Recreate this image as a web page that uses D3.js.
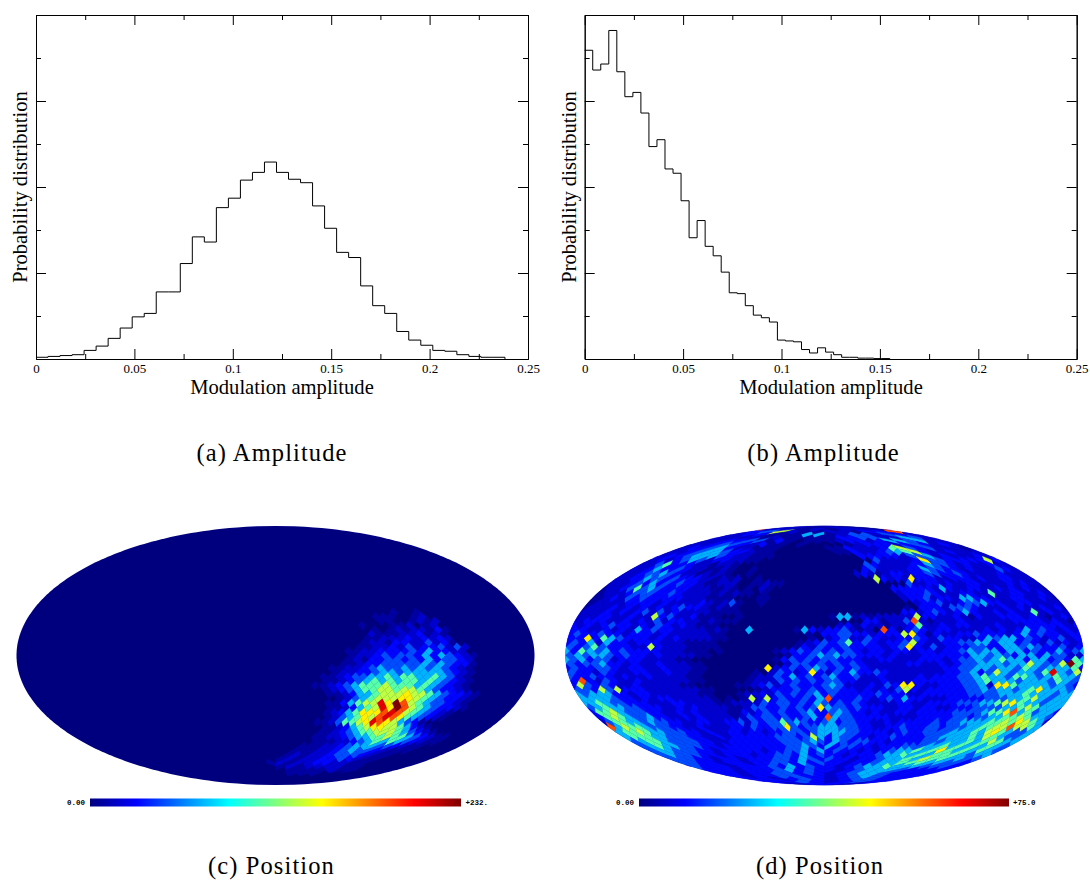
<!DOCTYPE html>
<html>
<head>
<meta charset="utf-8">
<script src="https://cdn.jsdelivr.net/npm/d3@7"></script>
<style>
  body { margin: 0; background: #fff; }
  text { font-family: "Liberation Serif", serif; fill: #000; }
</style>
</head>
<body>
<script>
// histogram heights, one per bin (major y tick = 1)
var histA = [0.02,0.03,0.04,0.05,0.10,0.15,0.24,0.36,0.49,0.53,0.78,0.78,1.11,1.42,1.36,1.76,1.87,2.08,2.17,2.29,
  2.17,2.09,2.05,1.78,1.52,1.24,1.18,0.85,0.62,0.53,0.32,0.22,0.16,0.10,0.09,0.05,0.03,0.02,0.02];
var histB = [3.59,3.36,3.43,3.82,3.34,3.05,3.10,2.86,2.47,2.55,2.21,2.16,1.84,1.41,1.61,1.31,1.20,1.01,0.77,0.76,
  0.62,0.51,0.48,0.43,0.22,0.21,0.20,0.11,0.07,0.13,0.08,0.05,0.02,0.02,0.01,0.01,0.005,0.005];
var binWidthA = 0.00611;
var binWidthB = 0.00408;
var xMajor = [0, 0.05, 0.1, 0.15, 0.2, 0.25];
var xMinor = [0.025, 0.075, 0.125, 0.175, 0.225];
var yMajor = [1, 2, 3];
var yMinor = [0.5, 1.5, 2.5, 3.5];

// colour levels used by the map strings, as fraction of the colour bar maximum
var levels = { "0":0, "1":0.035, "2":0.08, "3":0.13, "4":0.2, "5":0.3, "6":0.46, "7":0.56, "8":0.64, "9":0.8, "a":0.9, "b":1 };
var maxC = 232;
var maxD = 75;

// panel (c): nearly empty, so only the filled runs [ring, first pixel, levels]
var runsC = [
  [22,47,"1001"],[23,45,"1110012"],[24,45,"11001212"],[25,43,"1000112012"],[26,44,"1012122131"],
  [27,44,"2111223121"],[28,43,"11222323232"],[29,43,"122133224231"],[30,42,"11223242334242"],
  [31,41,"112233334353322"],[32,41,"1223434435354321"],[33,41,"1213344343534432"],[34,40,"11233444445454331"],
  [35,39,"112234544545454321"],[36,39,"122334554555554321"],[37,38,"1123445565665565421"],[38,38,"1123456565665654321"],
  [39,37,"11234566676665654321"],[40,38,"1234566776776543321"],[41,39,"11235567778776543321"],
  [42,40,"124567778876543321"],[43,39,"1135677a8b976544321"],[44,39,"1123567a8b976543321"],
  [45,39,"123568889a97654321"],[46,39,"12456879a98654321"],[47,38,"11246678a9875431"],
  [48,39,"1123567887765321"],[49,36,"11234566777654321"],[50,33,"1122345566766543211"],
  [51,31,"11122345656543211"],[52,27,"1112234555443211"],[53,24,"111223454432111"],[54,21,"1212234443211"],
  [55,18,"121223343211"],[56,15,"12122332211"],[57,14,"121222211"],[58,13,"1111211"],[59,11,"111"]
];

// panel (d): one string per ring, north to south, left to right
var ringsD = [
  "2121","22121221","347211221339","2331115512442432","22221211111334422542","223344131011123323554522",
  "2234432311010000123332343232","23345322111000001132223674342221","223455433211000000011322345673223222",
  "2334555432211100000000003333324452322232","23234542332211000000000000004222238443333373",
  "224633322122100000000000000004322223354432322322","2235334322112100100000000000000342222335443323222432",
  "22344543221212100100000000000000232123323344334322223222",
  "223354434333221212001000000000000000073232833322333232233222",
  "2223435343433211222001121100000000000000000042233232233222232322",
  "1223464543333222112101021000000000000000003333332532233223232322",
  "1222344433432222121211010000000000000000002333432223322622332232",
  "1123243433333222111100011000000000000000000233423325533222332232",
  "1222233332322223212410010000000000000000000023342234453322332222",
  "1222323232323433212110000000000000000000000103332444322232322323",
  "2223232342423222211110000000000000000000003323432353223232262322",
  "2223322322734223111001000000000001551212222273322321322333232123",
  "2333223232423322121110000000000000000331224921222322222233332321",
  "3232343323243232111000000000000000231322122362232332223222333332",
  "3322323253433222212100500000153233421209313432332222323235343232",
  "3433433233323222221100000000001033443323337831322334333235343323",
  "3383654333232322221100000000001023422432233432433223545534323423",
  "3435253323332221111000000000012343463432334732233445535534324232",
  "4346433322732221111000000000132433433332348324233344335545433423",
  "5365453433332221110100000012343434343233233233233454553553433534",
  "4545543433232222110000000001334545443332322233333355454355354422",
  "5453442333222211000000000013434344333223322233323445456553553436",
  "43445332322322211000000000024434343432222233223234455545575447b6",
  "3433443233223222110000000823434543434322222222233445545546545556",
  "433243223322322110000001024323832435334322222223345347545546a547",
  "4334332322322221100000012243534345334223222232333445655466545655",
  "3932432232222221100000122243434344332223222333333445655545554654",
  "3743432232222211000001123423433345422232438832233344528865555454",
  "4437473332222222110000012333434344332323247323333344545545685554",
  "5455533233222222110001223243434534333334333223333334444555655545",
  "5555433232332222210101727343343593334323435332223333344455675455",
  "5565443332223322221122224344343543434322223322333344455678655455",
  "4565544333223232222112443343434854434333223323322333444455676555",
  "3667544433223232222113234343345334543323223323333344445668956455",
  "3676544533223232222124344343345395443333322223333344344556676554",
  "2466554544332233223342434464543345344332232333334344555566768765",
  "9576654443322322223324334484344555444332233433344344455667797765",
  "566765544433232233233233444345555443333234334444555657865445",
  "56665544433223233333344434753544332334333344555565765445",
  "4566544443322333333344445435434433233334445556567655",
  "456554443323333333344543534433233344455656565654",
  "45544433233333233445353433232345565686565654",
  "4544433233323344353433233345565656665455",
  "444332332333443543433233455657665544",
  "44332332334435343323345566655443",
  "4333233343534332345565554443",
  "333233345343323455543333",
  "33233443432345543333",
  "3233443323454333",
  "332343234433",
  "33432343",
  "2332"
];

var nside = 16;

var width = 1090;
var height = 883;

var svg = d3.select("body").append("svg")
  .attr("width", width)
  .attr("height", height)
  .style("display", "block");

// jet style colour map
var jetStops = [0, 0.125, 0.375, 0.625, 0.875, 1];
var jetColors = ["#00007f", "#0000ff", "#00ffff", "#ffff00", "#ff0000", "#7f0000"];
var jet = d3.scaleLinear().domain(jetStops).range(jetColors).clamp(true);

// gradient for the colour bars
var grad = svg.append("defs").append("linearGradient").attr("id", "jetgrad");
jetStops.forEach(function(s, i) {
  grad.append("stop").attr("offset", s).attr("stop-color", jetColors[i]);
});

// draw one histogram panel
function drawHist(left, right, values, binWidth, labelX, labelYX) {
  var top = 15, bottom = 359;
  var x = d3.scaleLinear().domain([0, 0.25]).range([left, right]);
  var y = d3.scaleLinear().domain([0, 4]).range([bottom, top]);
  var g = svg.append("g");

  function axis(a, tr, size, vals, labels) {
    var ax = g.append("g").attr("transform", tr)
      .call(a.tickValues(vals).tickSizeInner(size).tickSizeOuter(0).tickPadding(5)
        .tickFormat(labels ? function(d) { return d; } : ""));
    ax.selectAll("path,line").attr("stroke", "#000").attr("stroke-width", 1);
    ax.selectAll("text").style("font-family", '"Liberation Serif", serif').style("font-size", "13px").attr("fill", "#000");
  }
  axis(d3.axisBottom(x), "translate(0," + bottom + ")", -10, xMajor, true);
  axis(d3.axisBottom(x), "translate(0," + bottom + ")", -5, xMinor, false);
  axis(d3.axisTop(x), "translate(0," + top + ")", -10, xMajor, false);
  axis(d3.axisTop(x), "translate(0," + top + ")", -5, xMinor, false);
  axis(d3.axisLeft(y), "translate(" + left + ",0)", -10, yMajor, false);
  axis(d3.axisLeft(y), "translate(" + left + ",0)", -5, yMinor, false);
  axis(d3.axisRight(y), "translate(" + right + ",0)", -10, yMajor, false);
  axis(d3.axisRight(y), "translate(" + right + ",0)", -5, yMinor, false);

  // the step outline, dropping to zero after the last bin
  var pts = values.map(function(v, i) { return [i * binWidth, v]; });
  pts.push([values.length * binWidth, 0]);
  var line = d3.line()
    .x(function(d) { return x(d[0]); })
    .y(function(d) { return y(d[1]); })
    .curve(d3.curveStepAfter);
  g.append("path").attr("d", line(pts))
    .attr("fill", "none").attr("stroke", "#000").attr("stroke-width", 1);

  g.append("text").attr("x", labelX).attr("y", 394).attr("text-anchor", "middle")
    .style("font-size", "20.6px").text("Modulation amplitude");
  g.append("text").attr("transform", "translate(" + labelYX + ",187) rotate(-90)")
    .attr("text-anchor", "middle").style("font-size", "20.6px").text("Probability distribution");
}

drawHist(36, 528, histA, binWidthA, 282, 27);
drawHist(584.7, 1076.7, histB, binWidthB, 831, 576);

// mollweide, d3 core only has the generic projection factory
function mollweideRaw(lambda, phi) {
  var t = phi;
  if (Math.abs(Math.abs(phi) - Math.PI / 2) > 1e-9) {
    var target = Math.PI * Math.sin(phi);
    for (var k = 0; k < 30; k++) {
      var dt = (2 * t + Math.sin(2 * t) - target) / (2 + 2 * Math.cos(2 * t));
      t -= dt;
      if (Math.abs(dt) < 1e-9) break;
    }
  }
  return [2 * Math.SQRT2 / Math.PI * lambda * Math.cos(t), Math.SQRT2 * Math.sin(t)];
}

// healpix projection plane to lon/lat in degrees
function planeToLonLat(xs, ys, xc) {
  var a = Math.abs(ys), lon, lat;
  if (a <= Math.PI / 4) {
    lon = xs;
    lat = Math.asin(8 * ys / (3 * Math.PI));
  } else {
    if (a >= Math.PI / 2 - 1e-9) lon = xc;
    else lon = xs - (a - Math.PI / 4) / (a - Math.PI / 2) * (xs - xc);
    var s = 2 - 4 * a / Math.PI;
    lat = (ys < 0 ? -1 : 1) * Math.asin(1 - s * s / 3);
  }
  return [lon * 180 / Math.PI, lat * 180 / Math.PI];
}

// number of pixels in ring i (1 based)
function ringSize(i) {
  var p = Math.min(i, 4 * nside - i);
  return p < nside ? 4 * p : 4 * nside;
}

// polygon of pixel j in ring i, clockwise as d3 wants it
function pixelPolygon(i, j) {
  var p = Math.min(i, 4 * nside - i);
  var step = Math.PI / (2 * nside);
  var ys = Math.PI / 4 * (2 - i / nside);
  if (i < nside || i > 3 * nside) {
    ys = (i < nside ? 1 : -1) * Math.PI / 4 * (2 - p / nside);
  }
  var xs;
  if (p < nside) {
    var facet = Math.floor(j / p), m = j - facet * p;
    xs = -Math.PI + Math.PI / 4 + facet * Math.PI / 2 + (m - (p - 1) / 2) * step;
  } else {
    xs = -Math.PI + (j + ((i - nside) % 2 === 0 ? 0.5 : 0)) * step;
  }
  var fc = Math.max(0, Math.min(3, Math.floor((xs + Math.PI) / (Math.PI / 2))));
  var xc = -Math.PI + Math.PI / 4 + fc * Math.PI / 2;
  var h = step / 2;
  var ring = [
    planeToLonLat(xs, ys + h, xc),
    planeToLonLat(xs + h, ys, xc),
    planeToLonLat(xs, ys - h, xc),
    planeToLonLat(xs - h, ys, xc)
  ];
  ring.push(ring[0]);
  return { type: "Polygon", coordinates: [ring] };
}

function drawMap(left, right, top, bottom, cells, maxValue, barLeft, barRight, lowLabel, highLabel, highX) {
  var projection = d3.geoProjection(mollweideRaw)
    .precision(0.02)
    .fitExtent([[left, top], [right, bottom]], { type: "Sphere" });
  var path = d3.geoPath(projection);
  var g = svg.append("g").style("filter", "blur(0.5px)");

  // the outline is a plain meridian pair, so sample it through the projection
  var edge = [];
  d3.range(-90, 90.01, 1).forEach(function(lat) { edge.push(projection([179.999, lat])); });
  d3.range(90, -90.01, -1).forEach(function(lat) { edge.push(projection([-179.999, lat])); });
  g.append("path").attr("d", d3.line()(edge) + "Z").attr("fill", jet(0));

  g.selectAll("path.cell").data(cells).enter().append("path")
    .attr("class", "cell")
    .attr("d", function(d) { return path(pixelPolygon(d.ring, d.pixel)); })
    .attr("fill", function(d) { return jet(d.value / maxValue); })
    .attr("stroke", function(d) { return jet(d.value / maxValue); })
    .attr("stroke-width", 0.3);

  // colour bar and its two labels
  svg.append("rect").attr("x", barLeft).attr("y", 798.5)
    .attr("width", barRight - barLeft).attr("height", 8)
    .attr("fill", "url(#jetgrad)");
  svg.append("text").attr("x", barLeft - 5).attr("y", 804.5).attr("text-anchor", "end")
    .style("font-family", '"Liberation Mono", monospace').style("font-size", "7.5px").style("font-weight", "bold").text(lowLabel);
  svg.append("text").attr("x", highX).attr("y", 804.5)
    .style("font-family", '"Liberation Mono", monospace').style("font-size", "7.5px").style("font-weight", "bold").text(highLabel);
}

// turn the strings into cells
function cellsFromRuns(runs, maxValue) {
  var out = [];
  runs.forEach(function(r) {
    r[2].split("").forEach(function(c, k) {
      if (levels[c]) out.push({ ring: r[0], pixel: r[1] + k, value: levels[c] * maxValue });
    });
  });
  return out;
}
function cellsFromRings(rings, maxValue) {
  var out = [];
  rings.forEach(function(s, idx) {
    var ring = idx + 1, n = ringSize(ring);
    for (var j = 0; j < n; j++) {
      var c = s.charAt(Math.floor((j + 0.5) / n * s.length));
      if (levels[c]) out.push({ ring: ring, pixel: j, value: levels[c] * maxValue });
    }
  });
  return out;
}

drawMap(16, 535, 526, 785, cellsFromRuns(runsC, maxC), maxC, 90, 461, "0.00", "+232.", 465.5);
drawMap(565, 1084, 526, 785, cellsFromRings(ringsD, maxD), maxD, 639, 1009, "0.00", "+75.0", 1013);

// sub captions
var captions = [
  { text: "(a) Amplitude", x: 272, y: 461 },
  { text: "(b) Amplitude", x: 823.5, y: 461 },
  { text: "(c) Position", x: 271.5, y: 874 },
  { text: "(d) Position", x: 820, y: 874 }
];
svg.selectAll("text.caption").data(captions).enter().append("text")
  .attr("class", "caption")
  .attr("x", function(d) { return d.x; })
  .attr("y", function(d) { return d.y; })
  .attr("text-anchor", "middle")
  .style("font-size", "24.5px")
  .style("letter-spacing", "1.1px")
  .text(function(d) { return d.text; });
</script>
</body>
</html>
